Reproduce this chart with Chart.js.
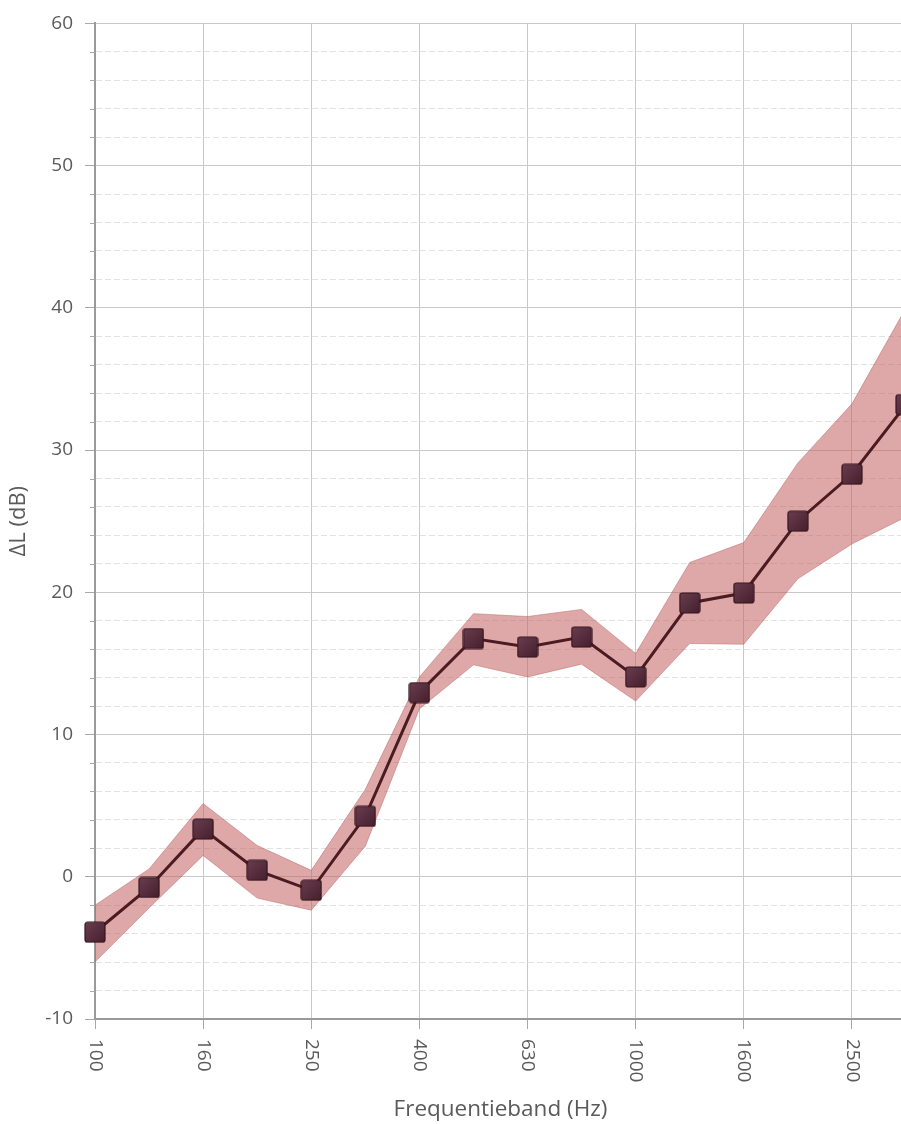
<!DOCTYPE html>
<html>
<head>
<meta charset="utf-8">
<script src="https://cdn.jsdelivr.net/npm/chart.js@4.4.1/dist/chart.umd.min.js"></script>
<style>
  html, body { margin: 0; padding: 0; background: #fff; overflow: hidden; }
  #myChart { display: block; }
</style>
</head>
<body>
<canvas id="myChart" width="920" height="1124"></canvas>
<script>
// third-octave bands (Hz)
const bands = ["100", "125", "160", "200", "250", "315", "400", "500", "630", "800", "1000", "1250", "1600", "2000", "2500", "3150"];
// measured level difference and its spread
const deltaL = [-3.9, -0.75, 3.35, 0.45, -0.95, 4.25, 12.95, 16.75, 16.15, 16.85, 14.05, 19.25, 19.95, 25.0, 28.3, 33.2];
const upperL = [-2.0, 0.55, 5.15, 2.2, 0.45, 6.15, 14.05, 18.5, 18.3, 18.8, 15.7, 22.1, 23.5, 29.1, 33.25, 40.0];
const lowerL = [-6.0, -2.2, 1.5, -1.5, -2.35, 2.15, 11.8, 14.9, 14.05, 14.95, 12.35, 16.4, 16.35, 20.95, 23.4, 25.3];
const yMin = -10;
const yMax = 60;

Chart.defaults.font.family = "'Open Sans', sans-serif";
Chart.defaults.font.size = 19;
Chart.defaults.color = "#5a5a5a";

// rounded square marker
const marker = document.createElement("canvas");
marker.width = 22;
marker.height = 22;
const mctx = marker.getContext("2d");
const grad = mctx.createLinearGradient(0, 0, 22, 22);
grad.addColorStop(0, "#6b4052");
grad.addColorStop(1, "#441d2a");
mctx.fillStyle = grad;
mctx.strokeStyle = "#35151d";
mctx.lineWidth = 1.2;
mctx.beginPath();
if (mctx.roundRect) mctx.roundRect(1, 1, 20, 20, 2.5);
else mctx.rect(1, 1, 20, 20);
mctx.fill();
mctx.stroke();

const isMajor = (v) => Math.abs(v % 10) < 1e-6;

const axisExtras = {
  id: "axisExtras",
  beforeDatasetsDraw(chart) {
    const ctx = chart.ctx;
    const ys = chart.scales.y;
    ctx.save();
    // minor ticks on the value axis
    ctx.strokeStyle = "#a8a8a8";
    ctx.lineWidth = 1;
    ys.ticks.forEach((t) => {
      if (isMajor(t.value)) return;
      const y = Math.round(ys.getPixelForValue(t.value)) + 0.5;
      ctx.beginPath();
      ctx.moveTo(ys.right - 5, y);
      ctx.lineTo(ys.right, y);
      ctx.stroke();
    });
    ctx.restore();
  },
  afterDraw(chart) {
    const ctx = chart.ctx;
    const xs = chart.scales.x;
    ctx.save();
    // category labels, turned clockwise
    ctx.fillStyle = "#5a5a5a";
    ctx.font = "19px 'Open Sans', sans-serif";
    ctx.textAlign = "left";
    ctx.textBaseline = "middle";
    bands.forEach((b, i) => {
      if (i % 2 !== 0) return;
      const x = xs.getPixelForTick(i);
      ctx.save();
      ctx.translate(x, xs.top + 20);
      ctx.rotate(Math.PI / 2);
      ctx.fillText(b, 0, 0);
      ctx.restore();
    });
    ctx.restore();
  }
};

new Chart(document.getElementById("myChart"), {
  type: "line",
  data: {
    labels: bands,
    datasets: [
      {
        data: deltaL,
        borderColor: "#4a1c22",
        borderWidth: 3,
        pointStyle: marker,
        pointRadius: 11,
        fill: false,
        tension: 0
      },
      {
        data: upperL,
        borderColor: "rgba(180,90,90,0.45)",
        borderWidth: 1,
        pointRadius: 0,
        backgroundColor: "rgba(196,96,96,0.55)",
        fill: "+1",
        tension: 0
      },
      {
        data: lowerL,
        borderColor: "rgba(180,90,90,0.45)",
        borderWidth: 1,
        pointRadius: 0,
        fill: false,
        tension: 0
      }
    ]
  },
  options: {
    responsive: false,
    animation: false,
    layout: { padding: { top: 22, right: 0, left: 0, bottom: 0 } },
    plugins: {
      legend: { display: false },
      tooltip: { enabled: false }
    },
    scales: {
      x: {
        offset: false,
        ticks: { display: false, autoSkip: false },
        grid: {
          color: (c) => (c.index % 2 === 0 ? "#c9c9c9" : "rgba(0,0,0,0)"),
          tickColor: (c) => (c.index % 2 === 0 ? "#a8a8a8" : "rgba(0,0,0,0)"),
          tickLength: 10
        },
        border: { color: "#9a9a9a", width: 2 },
        title: {
          display: true,
          text: "Frequentieband (Hz)",
          font: { size: 22.5 },
          color: "#5a5a5a",
          padding: { top: 2, bottom: 1 }
        },
        afterFit: (s) => { s.height = 105; }
      },
      y: {
        min: yMin,
        max: yMax,
        ticks: {
          stepSize: 2,
          padding: 12,
          callback: (v) => (isMajor(v) ? v : "")
        },
        grid: {
          color: (c) => (c.tick && isMajor(c.tick.value) ? "#c9c9c9" : "#e2e2e2"),
          tickColor: (c) => (c.tick && isMajor(c.tick.value) ? "#a8a8a8" : "rgba(0,0,0,0)"),
          tickLength: 10,
          tickBorderDash: []
        },
        border: {
          color: "#9a9a9a",
          width: 2,
          dash: (c) => (c.tick && !isMajor(c.tick.value) ? [6, 3] : [])
        },
        title: {
          display: true,
          text: "ΔL (dB)",
          font: { size: 22 },
          color: "#5a5a5a",
          padding: { top: 6, bottom: 6 }
        },
        afterFit: (s) => { s.width = 95; }
      }
    }
  },
  plugins: [axisExtras]
});
</script>
</body>
</html>
